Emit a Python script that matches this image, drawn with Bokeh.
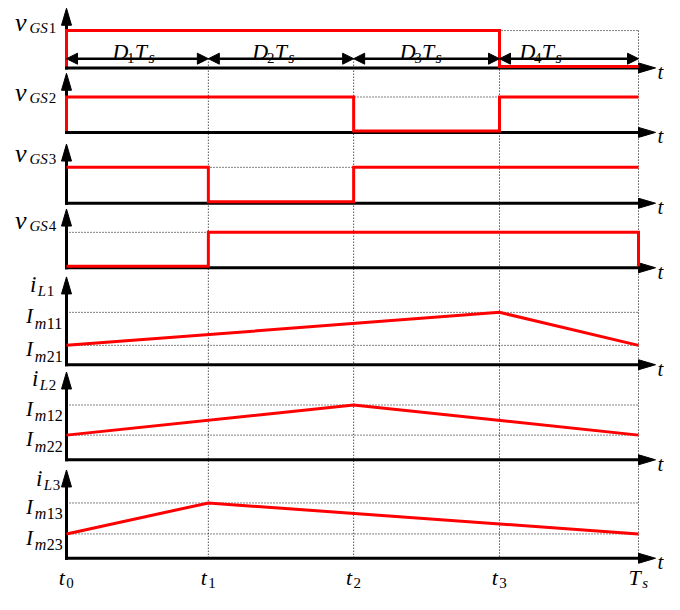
from bokeh.plotting import figure
from bokeh.models import Range1d, ColumnDataSource, Arrow, NormalHead
from bokeh.embed import file_html
from bokeh.resources import INLINE
from bokeh.core.properties import value

# ---------------- data ----------------
t_labels = [("t", "0"), ("t", "1"), ("t", "2"), ("t", "3"), ("T", "s")]
t_instants = [0.0, 0.248, 0.502, 0.757, 1.0]          # in units of Ts
duty_labels = [("D", "1"), ("D", "2"), ("D", "3"), ("D", "4")]

gate_labels = [("v", "GS", "1"), ("v", "GS", "2"), ("v", "GS", "3"), ("v", "GS", "4")]
vgs1_states = [1, 1, 1, 0]
vgs2_states = [1, 1, 0, 1]
vgs3_states = [1, 0, 1, 1]
vgs4_states = [0, 1, 1, 1]
gate_states = [vgs1_states, vgs2_states, vgs3_states, vgs4_states]
gate_start = [0, 0, 1, 0]
gate_end = [0, 1, 1, 0]

cur_labels = [("i", "L", "1"), ("i", "L", "2"), ("i", "L", "3")]
im1_labels = [("I", "m", "11"), ("I", "m", "12"), ("I", "m", "13")]
im2_labels = [("I", "m", "21"), ("I", "m", "22"), ("I", "m", "23")]
iL_peak_index = [3, 2, 1]            # index into t_instants where each current peaks
Im1 = [1.0, 1.0, 1.0]                # peak values (per unit)
Im2 = [0.37, 0.45, 0.44]             # valley values (per unit)

# ---------------- layout ----------------
W, H = 664, 594
SY = 0.97                             # vertical compression so everything fits


def Y(v):
    return v * SY


T0_PX, TS_PX = 66, 638
AXIS_X = 66
ARROW_TIP_X = 655
gate_base_px = [68, 134.5, 207.5, 274]
gate_high_px = [31, 99.5, 172, 239]
gate_axis_px = [69.5, 136, 209, 275.5]
gate_tip_px = [8, 75, 148, 215]
gate_label_base = [23, 95, 158, 227]
cur_base_px = [375.5, 473.5, 575]
cur_im1_px = [321.5, 417, 518]
cur_tip_px = [285, 383, 484]
cur_label_base = [293, 390, 493]
cur_label_right = [54, 56, 60]
DIM_Y = 60
D_LABEL_Y = 53
D_LABEL_OFF = [46, 44, 46, 20]
T_LABEL_BASE = 577
RED = "#ff0000"
FONT = "Liberation Serif"

p = figure(width=W, height=H, x_range=Range1d(0, W), y_range=Range1d(H, 0),
           output_backend="svg", toolbar_location=None, min_border=0,
           x_axis_location=None, y_axis_location=None)
p.grid.visible = False
p.outline_line_color = None
p.background_fill_color = "white"

scale = TS_PX - T0_PX
p.extra_x_ranges = {"t": Range1d((0 - T0_PX) / scale, (W - T0_PX) / scale)}


def panel_range(base, unit):
    return Range1d((base - H) / unit, (base - 0) / unit)


yr = {}
for k in range(4):
    yr[f"g{k}"] = panel_range(Y(gate_base_px[k]), Y(gate_base_px[k]) - Y(gate_high_px[k]))
for k in range(3):
    yr[f"c{k}"] = panel_range(Y(cur_base_px[k]), (Y(cur_base_px[k]) - Y(cur_im1_px[k])) / Im1[k])
p.extra_y_ranges = yr

ADV = {"D": 0.66, "T": 0.62, "s": 0.42, "v": 0.56, "G": 0.72, "S": 0.56, "I": 0.42,
       "m": 0.75, "t": 0.34, "L": 0.6, "i": 0.34}
DIGIT_ADV = 0.52


def rich(pieces, x, y, align="left", xoff=0, yoff=0, xr="default", yrn="default"):
    runs = []
    for txt, size, dy in pieces:
        cur_run = None
        for c in txt:
            style = "normal" if c.isdigit() else "italic"
            adv = (DIGIT_ADV if c.isdigit() else ADV.get(c, 0.5)) * size
            if cur_run and cur_run[3] == style:
                cur_run[0] += c
                cur_run[4] += adv
            else:
                cur_run = [c, size, dy, style, adv]
                runs.append(cur_run)
    total = sum(r[4] for r in runs)
    cur = {"left": 0, "right": -total, "center": -total / 2}[align] + xoff
    d = dict(x=[], y=[], text=[], xo=[], yo=[], size=[], style=[])
    for txt, size, dy, style, adv in runs:
        d["x"].append(x); d["y"].append(y); d["text"].append(txt)
        d["xo"].append(cur); d["yo"].append(dy + yoff)
        d["size"].append(f"{size}px"); d["style"].append(style)
        cur += adv
    p.text(x="x", y="y", text="text", x_offset="xo", y_offset="yo",
           text_font_size="size", text_font_style="style", text_font=value(FONT),
           text_baseline="alphabetic", text_align="left", text_color="black",
           source=ColumnDataSource(d), x_range_name=xr, y_range_name=yrn)


DOT = dict(line_color="black", line_width=1, line_dash="1 2")

# vertical dotted lines at t1..Ts
tops = [Y(DIM_Y), Y(DIM_Y), Y(gate_high_px[0]), Y(gate_high_px[0])]
p.segment(x0=t_instants[1:], x1=t_instants[1:], y0=tops, y1=[Y(cur_base_px[2])] * 4,
          x_range_name="t", **DOT)

# horizontal dotted levels
for k in range(4):
    p.segment(x0=[t_instants[0]], x1=[t_instants[-1]], y0=[1], y1=[1],
              x_range_name="t", y_range_name=f"g{k}", **DOT)
for k in range(3):
    p.segment(x0=[t_instants[0]] * 2, x1=[t_instants[-1]] * 2, y0=[Im1[k], Im2[k]],
              y1=[Im1[k], Im2[k]], x_range_name="t", y_range_name=f"c{k}", **DOT)

# axes (black) with arrowheads
axes_base = [Y(v) for v in gate_axis_px + cur_base_px]
axes_tip = [Y(v) for v in gate_tip_px + cur_tip_px]
for b, tip in zip(axes_base, axes_tip):
    p.line([AXIS_X, AXIS_X], [b + 1.5, tip + 12], line_color="black", line_width=3)
    p.line([AXIS_X - 1.5, ARROW_TIP_X - 12], [b, b], line_color="black", line_width=3)
    p.patch([AXIS_X - 5, AXIS_X, AXIS_X + 5], [tip + 17, tip, tip + 17], color="black")
    p.patch([ARROW_TIP_X - 17, ARROW_TIP_X, ARROW_TIP_X - 17], [b - 5, b, b + 5], color="black")
    rich([("t", 21, 0)], ARROW_TIP_X + 2, b + 4)

# gate waveforms
for k in range(4):
    xs, ys = [t_instants[0]], [gate_start[k]]
    for i, s in enumerate(gate_states[k]):
        xs += [t_instants[i], t_instants[i + 1]]
        ys += [s, s]
    xs.append(t_instants[-1]); ys.append(gate_end[k])
    p.line(xs, ys, line_color=RED, line_width=3, line_join="miter",
           x_range_name="t", y_range_name=f"g{k}")

# inductor currents
for k in range(3):
    xs = [t_instants[0], t_instants[iL_peak_index[k]], t_instants[-1]]
    ys = [Im2[k], Im1[k], Im2[k]]
    p.line(xs, ys, line_color=RED, line_width=3, line_join="miter",
           x_range_name="t", y_range_name=f"c{k}")

# dimension arrows D_i T_s
src = ColumnDataSource(dict(x0=t_instants[:-1], x1=t_instants[1:], y=[Y(DIM_Y)] * 4))
p.add_layout(Arrow(start=NormalHead(size=11, fill_color="black", line_color="black"),
                   end=NormalHead(size=11, fill_color="black", line_color="black"),
                   x_start="x0", x_end="x1", y_start="y", y_end="y", source=src,
                   x_range_name="t", line_width=2.5, line_color="black"))
for i, (a, sub) in enumerate(duty_labels):
    rich([(a, 22, 0), (sub, 15, 6), ("T", 22, 0), ("s", 16, 6)], t_instants[i], Y(D_LABEL_Y),
         align="left", xoff=D_LABEL_OFF[i], xr="t")

# gate labels
for k, (a, b, c) in enumerate(gate_labels):
    rich([(a, 26, 0), (b + c, 15, 5)], 56, Y(gate_label_base[k]), align="right")

# current labels
for k, (a, b, c) in enumerate(cur_labels):
    rich([(a, 23, 0), (b + c, 15, 6)], cur_label_right[k], Y(cur_label_base[k]), align="right")
    rich([(im1_labels[k][0], 21, 0), (im1_labels[k][1] + im1_labels[k][2], 16, 7)],
         63, Im1[k], align="right", yoff=4, yrn=f"c{k}")
    rich([(im2_labels[k][0], 21, 0), (im2_labels[k][1] + im2_labels[k][2], 16, 7)],
         63, Im2[k], align="right", yoff=4, yrn=f"c{k}")

# time labels
for i, (a, sub) in enumerate(t_labels):
    rich([(a, 22, 0), (sub, 15, 5)], t_instants[i], T_LABEL_BASE, align="center", xr="t")

open("out.html", "w").write(file_html(p, INLINE))
